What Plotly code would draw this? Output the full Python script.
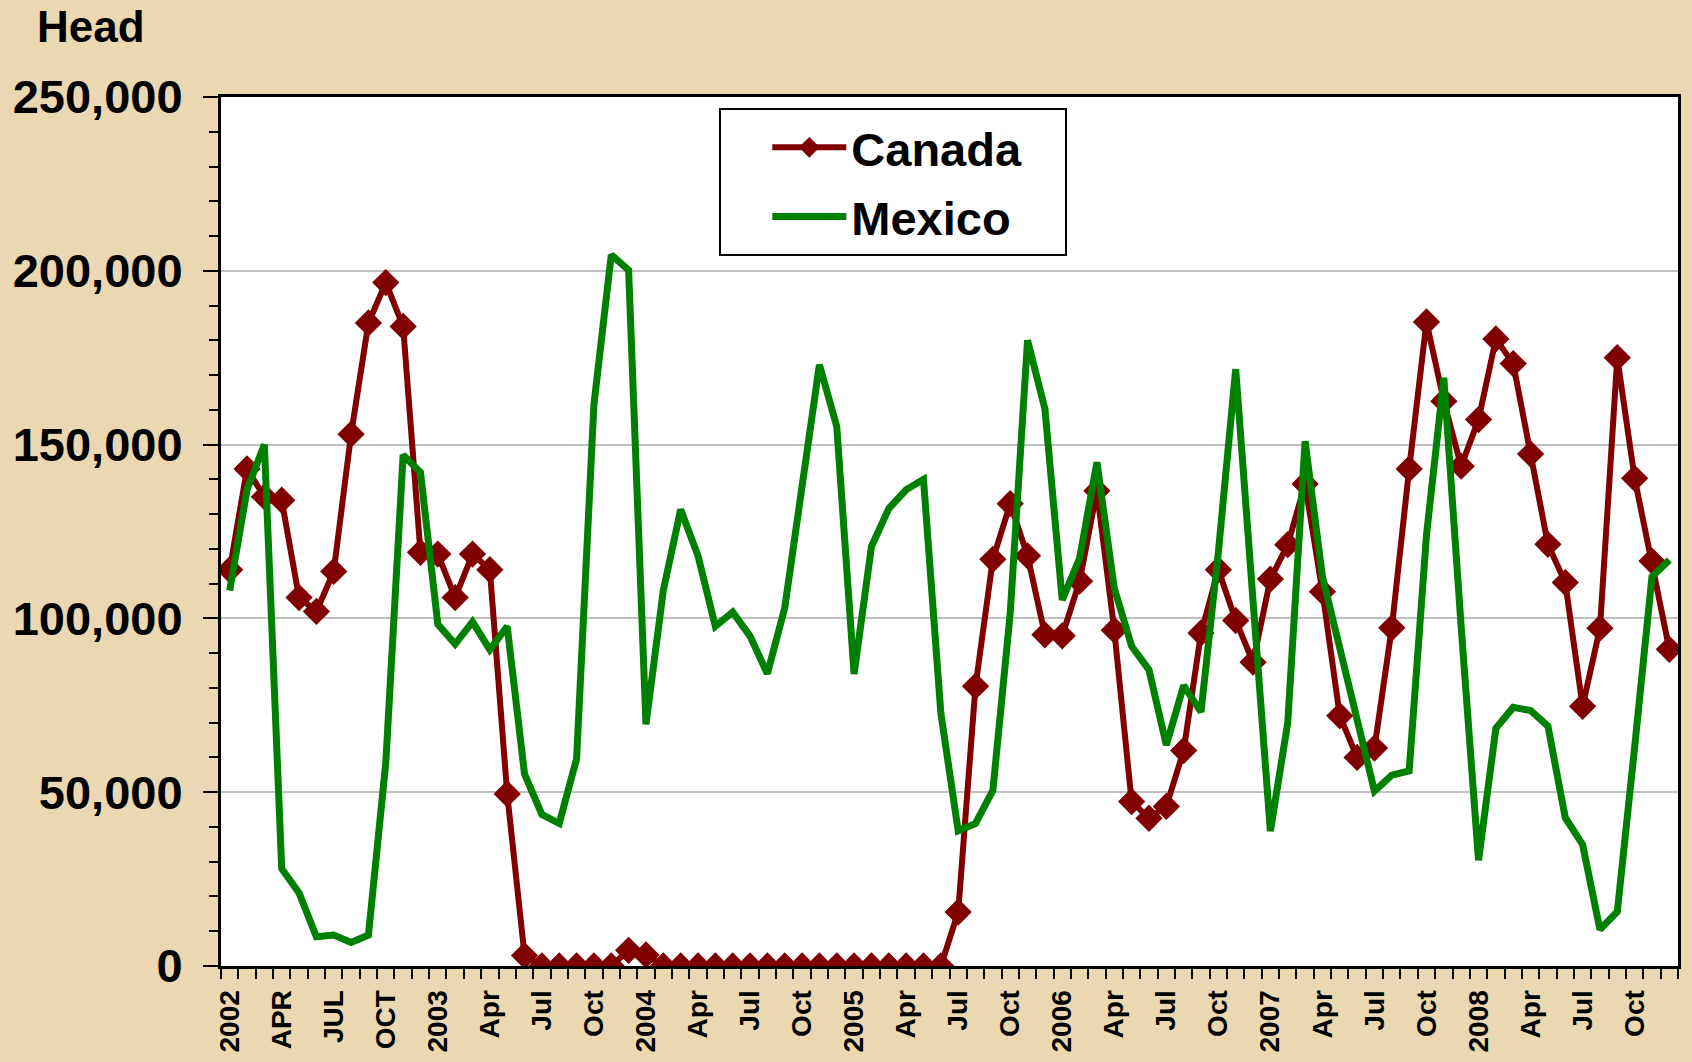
import plotly.graph_objects as go

# ---- data -------------------------------------------------------------
month_index = list(range(84))  # Jan 2002 .. Dec 2008
tick_positions = list(range(0, 84, 3))
tick_labels = ["2002", "APR", "JUL", "OCT",
               "2003", "Apr", "Jul", "Oct",
               "2004", "Apr", "Jul", "Oct",
               "2005", "Apr", "Jul", "Oct",
               "2006", "Apr", "Jul", "Oct",
               "2007", "Apr", "Jul", "Oct",
               "2008", "Apr", "Jul", "Oct"]

canada = [114000, 143000, 135000, 134000, 106000, 102000, 113500, 153000, 185000, 196600,
          184000, 119000, 118500, 106000, 118500, 114000, 49500, 3000, 0, 0,
          0, 0, 0, 4500, 3200, 0, 0, 0, 0, 0,
          0, 0, 0, 0, 0, 0, 0, 0, 0, 0,
          0, 0, 15500, 80500, 117000, 133000, 118000, 95300, 95000, 110700,
          136700, 96600, 47300, 42500, 45900, 62000, 95800, 114000, 99400, 87400,
          111300, 121200, 138700, 107700, 72000, 60000, 62700, 97300, 143000, 185300,
          162500, 143800, 157200, 180400, 173300, 147300, 121300, 110300, 74700, 97200,
          175000, 140300, 116500, 91100]

mexico = [108000, 137000, 150000, 28000, 21000, 8400, 8900, 6800, 8900, 58500,
          147000, 142000, 98300, 92600, 99000, 91000, 97700, 55200, 43600, 41000,
          59600, 161500, 204600, 200200, 69500, 108000, 131300, 118000, 97700, 101800,
          94900, 84100, 103000, 139000, 173000, 155200, 84000, 120700, 131600, 137000,
          140000, 72800, 38900, 41000, 50500, 101500, 180000, 160300, 105300, 117300,
          144900, 108700, 92000, 85200, 63600, 80700, 73100, 119000, 171700, 105000,
          38800, 70000, 151000, 112000, 91500, 71000, 50300, 54900, 56100, 124000,
          169200, 97500, 30400, 68400, 74400, 73500, 69000, 42700, 34900, 10500,
          15600, 63000, 112000, 116800]

y_ticks = [0, 50000, 100000, 150000, 200000, 250000]

# ---- figure -----------------------------------------------------------
FONT = "Liberation Sans, Arial, sans-serif"
CANADA_COLOR = "#800000"
MEXICO_COLOR = "#008000"
PAD = "\u00a0\u00a0\u00a0"  # right padding inside the legend box

fig = go.Figure()
fig.add_trace(go.Scatter(
    x=month_index, y=canada, name="Canada" + PAD, mode="lines+markers",
    legendgroup="canada",
    line=dict(color=CANADA_COLOR, width=6),
    marker=dict(symbol="diamond", size=21, color=CANADA_COLOR),
))
fig.add_trace(go.Scatter(
    x=month_index, y=mexico, name="Mexico" + PAD, mode="lines",
    legendgroup="mexico",
    line=dict(color=MEXICO_COLOR, width=7),
))

fig.update_layout(
    width=1692, height=1062,
    margin=dict(l=221, r=14, t=97, b=96, autoexpand=False),
    paper_bgcolor="#EBD8B2",
    plot_bgcolor="white",
    showlegend=True,
    legend=dict(
        x=0.342, y=0.987, xanchor="left", yanchor="top",
        bgcolor="white", bordercolor="black", borderwidth=2,
        font=dict(family=FONT, size=47, color="black", weight="bold"),
        itemwidth=74, indentation=46, tracegroupgap=5,
    ),
    annotations=[dict(
        text="Head", xref="paper", yref="paper", x=-0.089, y=1.081,
        xanchor="center", yanchor="middle", showarrow=False,
        font=dict(family=FONT, size=44, color="black", weight="bold"),
    )],
)

fig.update_xaxes(
    range=[-0.5, 83.5], automargin=False,
    tickmode="array", tickvals=tick_positions, ticktext=tick_labels,
    tickangle=-90, ticks="",
    tickfont=dict(family=FONT, size=28, color="black", weight="bold"),
    ticklabelstandoff=10,
    minor=dict(ticks="outside", tickmode="linear", tick0=-0.5, dtick=1,
               ticklen=10, tickwidth=2, tickcolor="black", showgrid=False),
    showgrid=False, zeroline=False,
    showline=True, linewidth=3, linecolor="black", mirror=True,
)
fig.update_yaxes(
    range=[0, 250000], automargin=False,
    tickmode="array", tickvals=y_ticks, tickformat=",",
    ticks="outside", ticklen=15, tickwidth=2, tickcolor="black",
    tickfont=dict(family=FONT, size=47, color="black", weight="bold"),
    ticklabelstandoff=11,
    minor=dict(ticks="outside", tickmode="linear", tick0=0, dtick=10000,
               ticklen=9, tickwidth=2, tickcolor="black", showgrid=False),
    showgrid=True, gridcolor="#C0C0C0", gridwidth=2,
    zeroline=False,
    showline=True, linewidth=3, linecolor="black", mirror=True,
)

fig.write_html(
    "out.html",
    config={"displayModeBar": False},
    post_script="document.body.style.margin='0';document.body.style.overflow='hidden';",
)
